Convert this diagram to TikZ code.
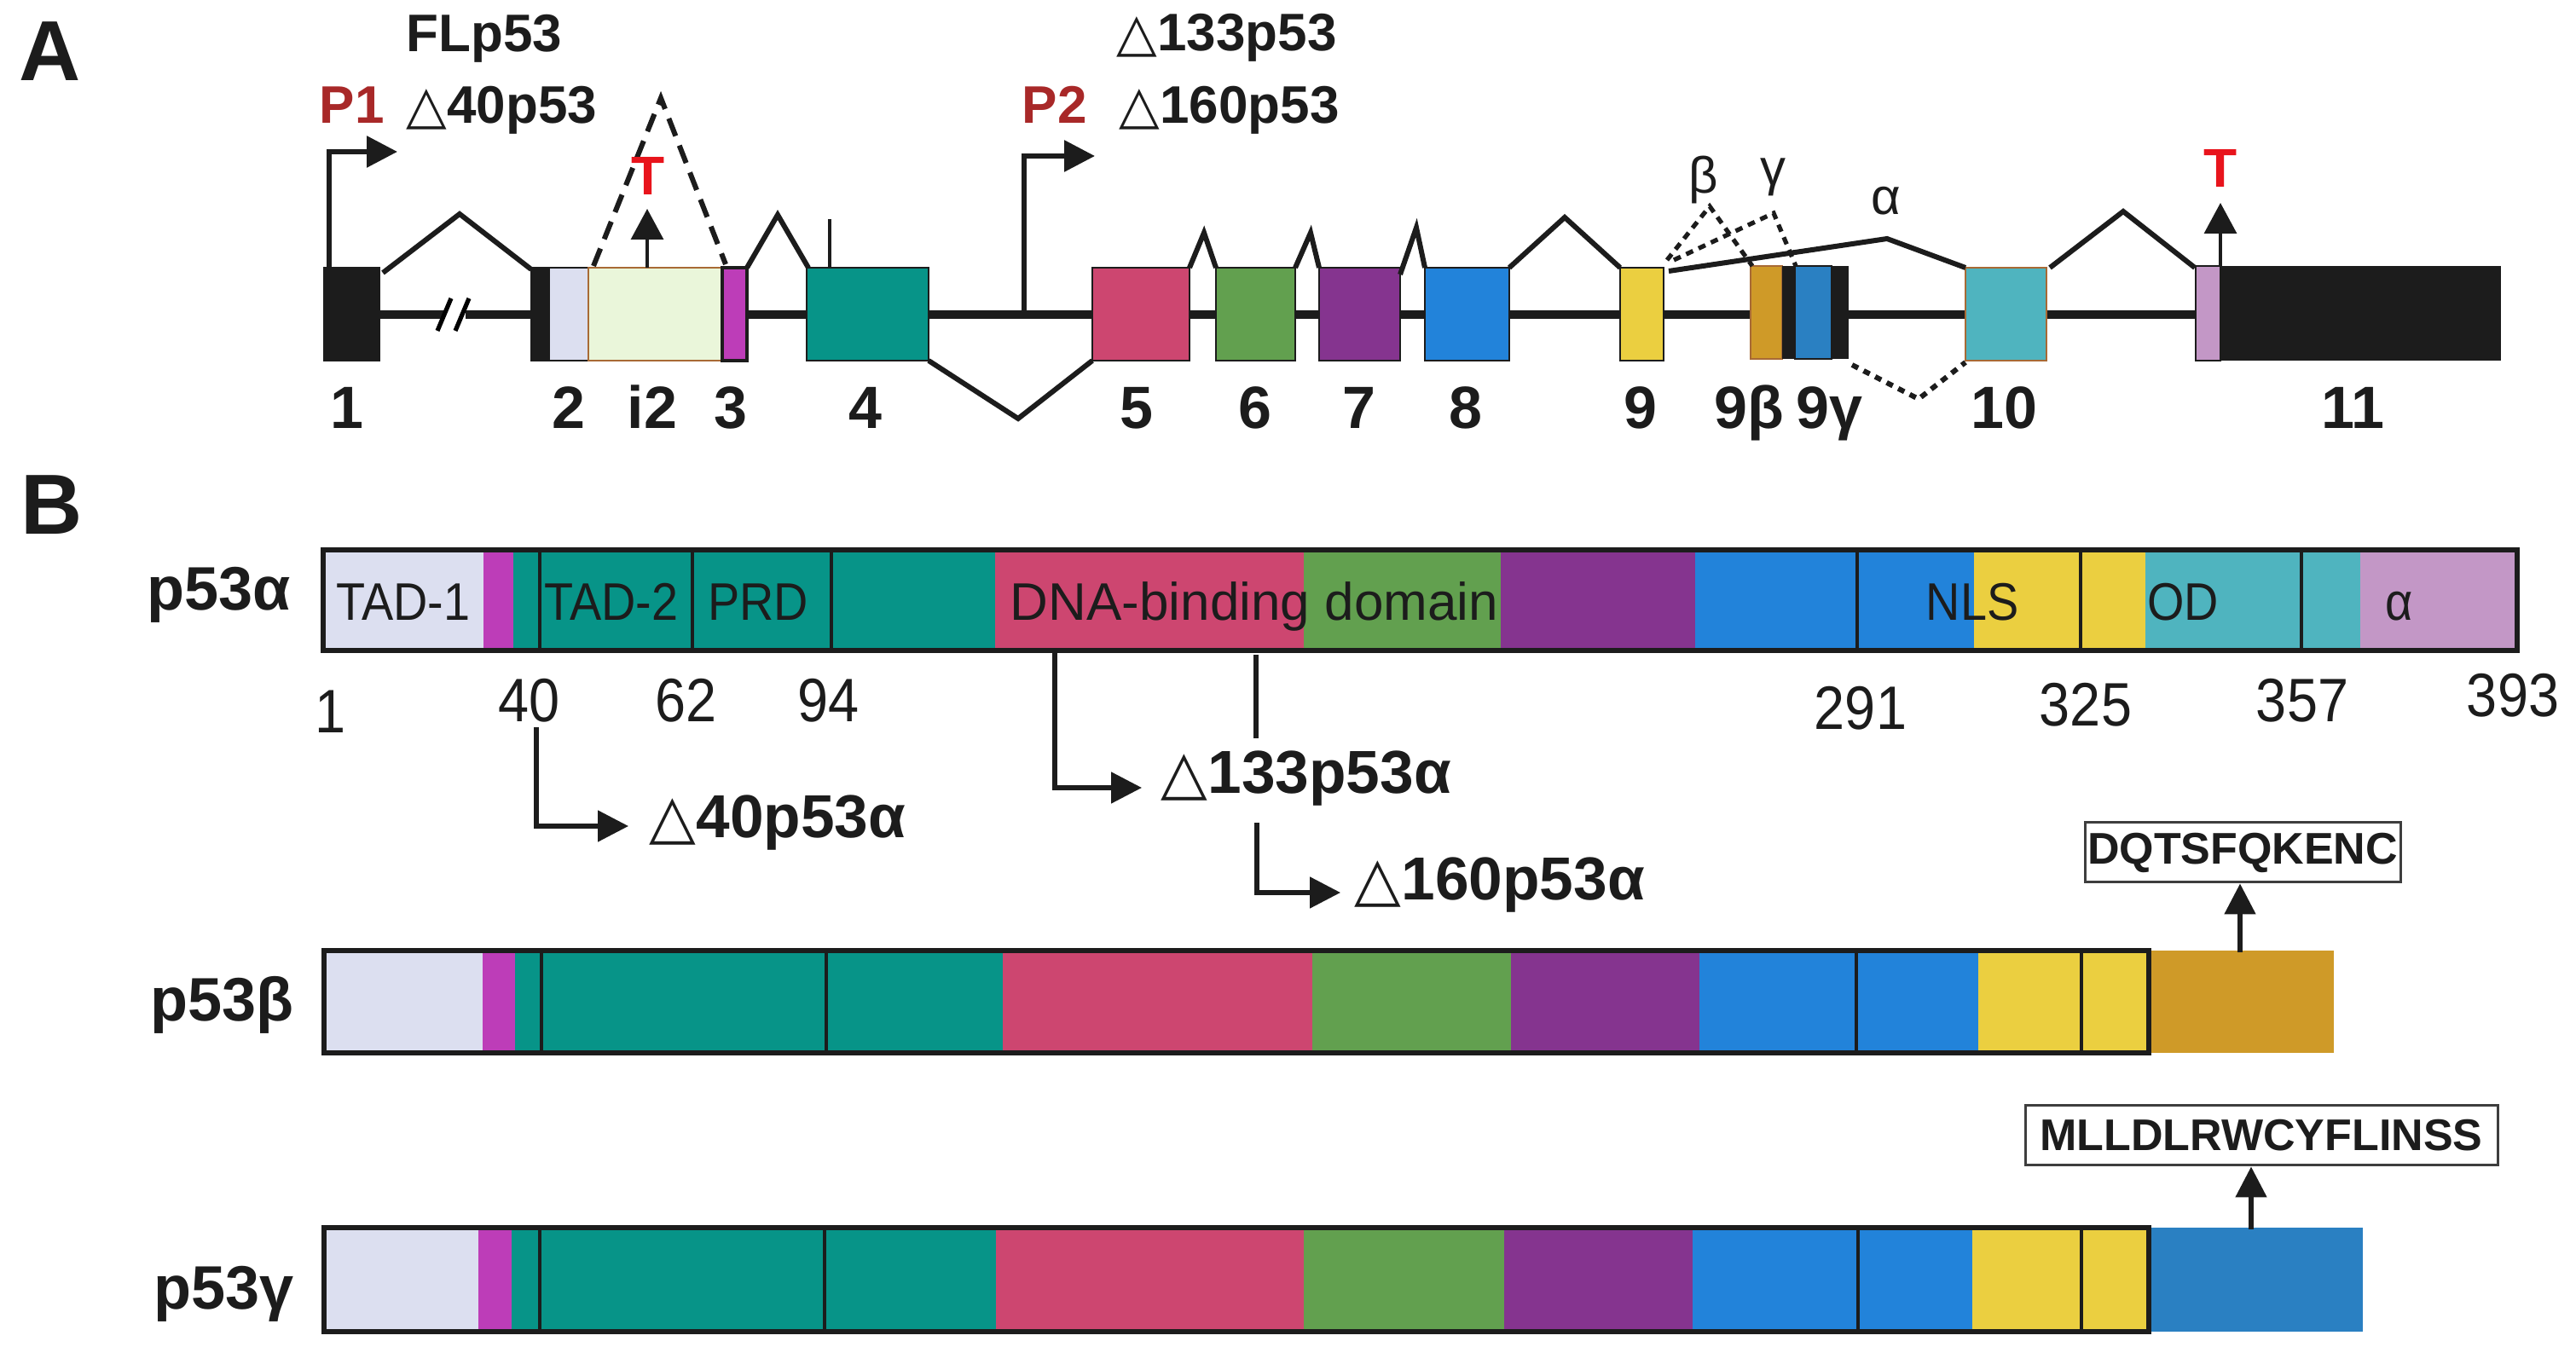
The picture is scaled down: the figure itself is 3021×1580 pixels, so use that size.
\documentclass[tikz,border=0pt]{standalone}
\usepackage{fontspec}
\setmainfont{Liberation Sans}
\newfontfamily\fcond[FakeStretch=0.9]{Liberation Sans}
\newfontface\fsym{DejaVu Sans}
\usetikzlibrary{arrows.meta}
\definecolor{cLav}{HTML}{DCDFF0}
\definecolor{cMag}{HTML}{BD3DB8}
\definecolor{cTeal}{HTML}{079488}
\definecolor{cPink}{HTML}{CD4670}
\definecolor{cGreen}{HTML}{62A04F}
\definecolor{cPurp}{HTML}{85348F}
\definecolor{cBlue}{HTML}{2283DA}
\definecolor{cYel}{HTML}{EBCF40}
\definecolor{cCyan}{HTML}{4FB4BF}
\definecolor{cLil}{HTML}{C397C6}
\definecolor{cOra}{HTML}{CF9A28}
\definecolor{cBlueB}{HTML}{2A80C2}
\definecolor{cIntr}{HTML}{EAF6DA}
\definecolor{cBrown}{HTML}{A86A35}
\definecolor{cDred}{HTML}{A82828}
\definecolor{cRed}{HTML}{E8141C}
\definecolor{cInk}{HTML}{1C1C1C}
\newcommand\tri{{\fsym △}}
\tikzset{
  every node/.style={inner sep=0pt, text=cInk},
  lblTop/.style={font=\bfseries\fontsize{15.5}{18}\selectfont, anchor=base west},
  exlbl/.style={font=\bfseries\fontsize{17.5}{20}\selectfont, anchor=base},
  greek/.style={font=\fontsize{15}{18}\selectfont},
  panel/.style={font=\bfseries\fontsize{25}{28}\selectfont, anchor=base west},
  prom/.style={font=\bfseries\fontsize{15.5}{18}\selectfont, anchor=base west, text=cDred},
  tlbl/.style={font=\bfseries\fontsize{16}{18}\selectfont, text=cRed, anchor=base},
  exbox/.style={draw=cInk, line width=0.5pt},
  backbone/.style={line width=2.6pt, draw=cInk},
  splice/.style={line width=1.5pt, draw=cInk, line join=miter},
  dashsp/.style={splice, dash pattern=on 5.5pt off 3pt},
  dotsp/.style={splice, dash pattern=on 2pt off 1.8pt},
  promarr/.style={line width=1.5pt, draw=cInk, -{Triangle[length=9pt,width=9pt]}},
  tarr/.style={line width=0.8pt, draw=cInk, -{Triangle[length=9pt,width=9.5pt]}},
  domlbl/.style={font=\fcond\fontsize{15.5}{18}\selectfont, anchor=base},
  domwide/.style={font=\fontsize{15.5}{18}\selectfont, anchor=base},
  numlbl/.style={font=\fcond\fontsize{18}{20}\selectfont, anchor=base},
  isolbl/.style={font=\bfseries\fontsize{18}{20}\selectfont, anchor=base west},
  isoarr/.style={line width=1.3pt, draw=cInk, -{Triangle[length=9pt,width=9pt]}},
  isoline/.style={line width=1.3pt, draw=cInk},
  isotxt/.style={font=\bfseries\fontsize{17.8}{20}\selectfont, anchor=base west},
  seqbox/.style={draw=cInk!85, line width=0.75pt, font=\bfseries\fontsize{13}{15}\selectfont, minimum height=17.5pt},
  barout/.style={draw=cInk, line width=1.5pt},
  barsep/.style={draw=cInk, line width=0.9pt},
}
\begin{document}
\begin{tikzpicture}[x=0.25pt,y=-0.25pt]
\useasboundingbox (0,0) rectangle (3021,1580);
% ================= PANEL A =================
\node[panel] (pA) at (22,95) {A};
\node[lblTop] (flp) at (476,61) {FLp53};
\node[prom] (p1) at (374,145) {P1};
\node[lblTop] (d40) at (476,145) {\tri 40p53};
\node[prom] (p2) at (1198,145) {P2};
\node[lblTop] (d133) at (1309,60) {\tri 133p53};
\node[lblTop] (d160) at (1312,145) {\tri 160p53};
% backbone
\draw[backbone] (445,369) -- (522,369);
\draw[backbone] (546,369) -- (2575,369);
\draw[line width=1.3pt] (513,388) -- (529,350);
\draw[line width=1.3pt] (534,388) -- (550,350);
% exons
\filldraw[exbox, fill=cInk] (380,314) rectangle (445,423);
\filldraw[exbox, fill=cInk] (623,314) rectangle (644,423);
\filldraw[exbox, fill=cLav] (644,314) rectangle (690,423);
\filldraw[draw=cBrown, line width=0.7pt, fill=cIntr] (690,314) rectangle (847,423);
\filldraw[draw=cInk, line width=1pt, fill=cMag] (847,314) rectangle (876,423);
\filldraw[exbox, fill=cTeal] (946,314) rectangle (1089,423);
\filldraw[exbox, fill=cPink] (1281,314) rectangle (1395,423);
\filldraw[exbox, fill=cGreen] (1426,314) rectangle (1519,423);
\filldraw[exbox, fill=cPurp] (1547,314) rectangle (1642,423);
\filldraw[exbox, fill=cBlue] (1671,314) rectangle (1770,423);
\filldraw[exbox, fill=cYel] (1900,314) rectangle (1951,423);
\filldraw[draw=cBrown, line width=0.5pt, fill=cOra] (2053,312) rectangle (2090,421);
\fill[cInk] (2090,312) rectangle (2105,421);
\filldraw[exbox, fill=cBlueB] (2105,312) rectangle (2148,421);
\fill[cInk] (2148,312) rectangle (2168,421);
\filldraw[draw=cBrown, line width=0.5pt, fill=cCyan] (2305,314) rectangle (2400,423);
\filldraw[exbox, fill=cLil] (2575,312) rectangle (2604,423);
\fill[cInk] (2604,312) rectangle (2933,423);
% exon 4 tick
\draw[line width=1pt, cInk] (973,257) -- (973,314);
% splicing
\draw[splice] (449,320) -- (539,251) -- (623,316);
\draw[splice] (876,314) -- (912,252) -- (948,314);
\draw[splice] (1089,423) -- (1194,491) -- (1281,423);
\draw[splice] (1395,314) -- (1412,273) -- (1426,314);
\draw[splice] (1519,314) -- (1537,273) -- (1547,314);
\draw[splice] (1642,322) -- (1661,267) -- (1671,314);
\draw[splice] (1770,314) -- (1835,255) -- (1900,314);
\draw[splice] (1957,318) -- (2213,280) -- (2305,314);
\draw[splice] (2404,314) -- (2490,248) -- (2574,314);
\draw[dashsp] (696,312) -- (775,115) -- (851,310);
\draw[splice, line width=1.3pt, dash pattern=on 2.2pt off 1.8pt] (1955,305) -- (2005,242) -- (2055,312);
\draw[splice, line width=1.3pt, dash pattern=on 2.2pt off 1.8pt] (1963,305) -- (2080,250) -- (2106,312);
\draw[dotsp] (2172,428) -- (2250,468) -- (2305,425);
% promoters and terminations
\draw[promarr] (386,314) |- (466,178);
\draw[promarr] (1201,369) |- (1284,183);
\draw[tarr] (759,314) -- (759,245);
\draw[tarr] (2604,312) -- (2604,238);
\node[tlbl] (t1) at (760,229) {T};
\node[tlbl] (t2) at (2604,220) {T};
% greek labels
\node[greek] (gb) at (1998,211) {β};
\node[greek] (gg) at (2079,208) {γ};
\node[greek] (ga) at (2212,236) {α};
% exon labels
\node[exlbl] (e1) at (407,503) {1};
\node[exlbl] (e2) at (667,503) {2};
\node[exlbl] (ei2) at (765,503) {i2};
\node[exlbl] (e3) at (857,503) {3};
\node[exlbl] (e4) at (1015,503) {4};
\node[exlbl] (e5) at (1333,503) {5};
\node[exlbl] (e6) at (1472,503) {6};
\node[exlbl] (e7) at (1594,503) {7};
\node[exlbl] (e8) at (1719,503) {8};
\node[exlbl] (e9) at (1924,503) {9};
\node[exlbl] (e9b) at (2051,503) {9β};
\node[exlbl] (e9g) at (2145,503) {9γ};
\node[exlbl] (e10) at (2350,503) {10};
\node[exlbl] (e11) at (2759,503) {11};
% ================= PANEL B =================
\node[panel] (pB) at (24,627) {B};
% p53 alpha bar
\fill[cLav] (379,645) rectangle (567,763);
\fill[cMag] (567,645) rectangle (602,763);
\fill[cTeal] (602,645) rectangle (1167,763);
\fill[cPink] (1167,645) rectangle (1529,763);
\fill[cGreen] (1529,645) rectangle (1760,763);
\fill[cPurp] (1760,645) rectangle (1988,763);
\fill[cBlue] (1988,645) rectangle (2315,763);
\fill[cYel] (2315,645) rectangle (2516,763);
\fill[cCyan] (2516,645) rectangle (2768,763);
\fill[cLil] (2768,645) rectangle (2952,763);
\foreach \xx in {633,812,975,2178,2440,2699} \draw[barsep] (\xx,645) -- (\xx,763);
\draw[barout] (379,645) rectangle (2952,763);
\node[isolbl] (la) at (172,716) {p53α};
\node[domlbl] (tad1) at (473,728) {TAD-1};
\node[domlbl] (tad2) at (717,728) {TAD-2};
\node[domlbl] (prd) at (889,728) {PRD};
\node[domwide] (dbd) at (1471,728) {DNA-binding domain};
\node[domlbl] (nls) at (2313,728) {NLS};
\node[domlbl] (od) at (2560,728) {OD};
\node[domlbl] (alp) at (2814,728) {α};
% positions
\node[numlbl] (n1) at (388,860) {1};
\node[numlbl] (n40) at (621,847) {40};
\node[numlbl] (n62) at (805,847) {62};
\node[numlbl] (n94) at (972,847) {94};
\node[numlbl] (n291) at (2182,856) {291};
\node[numlbl] (n325) at (2446,852) {325};
\node[numlbl] (n357) at (2700,847) {357};
\node[numlbl] (n393) at (2947,841) {393};
% N-terminal isoforms
\draw[isoarr] (629,853) |- (737,969);
\node[isotxt] (i40) at (761,983) {\tri 40p53α};
\draw[isoarr] (1237,763) |- (1339,924);
\node[isotxt] (i133) at (1361,931) {\tri 133p53α};
\draw[isoline] (1473,768) -- (1473,866);
\draw[isoarr] (1474,965) |- (1572,1047);
\node[isotxt] (i160) at (1588,1056) {\tri 160p53α};
% p53 beta bar
\fill[cLav] (380,1115) rectangle (566,1235);
\fill[cMag] (566,1115) rectangle (604,1235);
\fill[cTeal] (604,1115) rectangle (1176,1235);
\fill[cPink] (1176,1115) rectangle (1539,1235);
\fill[cGreen] (1539,1115) rectangle (1772,1235);
\fill[cPurp] (1772,1115) rectangle (1993,1235);
\fill[cBlue] (1993,1115) rectangle (2320,1235);
\fill[cYel] (2320,1115) rectangle (2520,1235);
\fill[cOra] (2520,1115) rectangle (2737,1235);
\foreach \xx in {635,969,2177,2441} \draw[barsep] (\xx,1115) -- (\xx,1235);
\draw[barout] (380,1115) rectangle (2520,1235);
\node[isolbl] (lb) at (176,1198) {p53β};
\node[seqbox, minimum width=92.5pt] (dq) at (2630,1000) {DQTSFQKENC};
\coordinate (bstart) at (2627,1117);
\draw[isoarr] (bstart) -- (bstart |- dq.south);
% p53 gamma bar
\fill[cLav] (380,1440) rectangle (561,1562);
\fill[cMag] (561,1440) rectangle (600,1562);
\fill[cTeal] (600,1440) rectangle (1168,1562);
\fill[cPink] (1168,1440) rectangle (1529,1562);
\fill[cGreen] (1529,1440) rectangle (1764,1562);
\fill[cPurp] (1764,1440) rectangle (1985,1562);
\fill[cBlue] (1985,1440) rectangle (2313,1562);
\fill[cYel] (2313,1440) rectangle (2520,1562);
\fill[cBlueB] (2520,1440) rectangle (2771,1562);
\foreach \xx in {633,967,2179,2441} \draw[barsep] (\xx,1440) -- (\xx,1562);
\draw[barout] (380,1440) rectangle (2520,1562);
\node[isolbl] (lg) at (180,1536) {p53γ};
\node[seqbox, minimum width=138.5pt] (ml) at (2652,1332) {MLLDLRWCYFLINSS};
\coordinate (gstart) at (2640,1442);
\draw[isoarr] (gstart) -- (gstart |- ml.south);
\end{tikzpicture}
\end{document}
